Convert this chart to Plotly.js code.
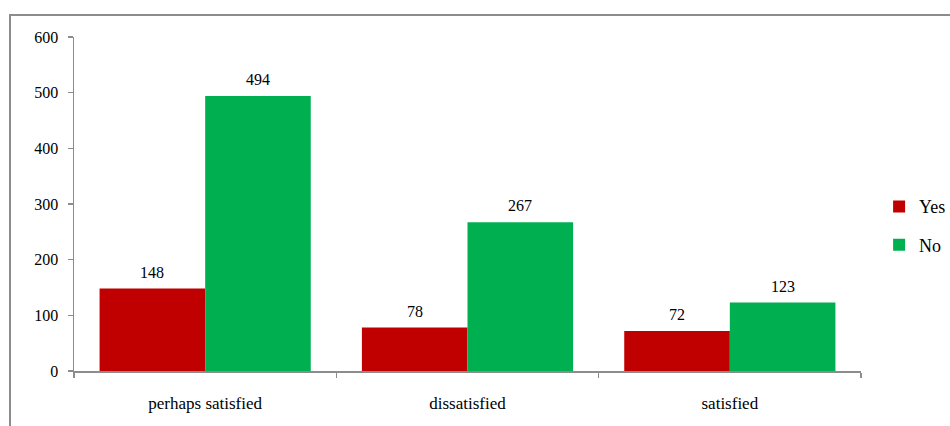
<!DOCTYPE html>
<html>
<head>
<meta charset="utf-8">
<script src="https://cdn.plot.ly/plotly-3.0.1.min.js"></script>
<style>
  html, body { margin: 0; padding: 0; background: #fff; font-family: "Liberation Serif", serif; }
  #wrap { position: relative; width: 950px; height: 426px; overflow: hidden; }
  #frame { position: absolute; left: 9px; top: 14px; width: 960px; height: 440px;
           border: 2px solid #8c8c8c; box-sizing: border-box; pointer-events: none; }
  #chart { position: absolute; left: 0; top: 0; width: 950px; height: 426px; }
  #chart svg text { font-family: "Liberation Serif", serif !important; }
</style>
</head>
<body>
<div id="wrap">
  <div id="frame"></div>
  <div id="chart"></div>
</div>
<script>
// Satisfaction responses, split by answer
const categories = ["perhaps satisfied", "dissatisfied", "satisfied"];
const yesValues = [148, 78, 72];
const noValues = [494, 267, 123];
const yTicks = [0, 100, 200, 300, 400, 500, 600];

const serif = "Liberation Serif";

const W = 950, H = 426;
const margin = { l: 74, r: 89, t: 37, b: 55, autoexpand: false };
const bargap = 0.195;

function barTrace(name, values, color, group) {
  return {
    type: "bar",
    name: name,
    x: categories,
    y: values,
    marker: { color: color, line: { width: 0 } },
    cliponaxis: false,
    legendgroup: group,
    hoverinfo: "x+y+name"
  };
}

const data = [
  barTrace("Yes", yesValues, "#C00000", "g1"),
  barTrace("No", noValues, "#00B050", "g2")
];

// Value labels sit above each bar; horizontal offset follows the grouped bar layout
const plotWidth = W - margin.l - margin.r;
const catWidth = plotWidth / categories.length;
const barWidth = catWidth * (1 - bargap) / 2;
const labelFont = { family: serif, size: 16, color: "#000" };
const annotations = [];
[[yesValues, -barWidth / 2], [noValues, barWidth / 2]].forEach(([vals, shift]) => {
  vals.forEach((v, i) => {
    annotations.push({
      x: categories[i], y: v, xref: "x", yref: "y",
      text: String(v), showarrow: false,
      xanchor: "center", yanchor: "bottom",
      xshift: shift, yshift: 6,
      font: labelFont
    });
  });
});

const layout = {
  width: W,
  height: H,
  margin: margin,
  paper_bgcolor: "rgba(0,0,0,0)",
  plot_bgcolor: "rgba(0,0,0,0)",
  barmode: "group",
  bargap: bargap,
  bargroupgap: 0,
  showlegend: true,
  font: { family: serif, size: 16, color: "#000" },
  annotations: annotations,
  xaxis: {
    type: "category",
    showline: true,
    linecolor: "#8c8c8c",
    linewidth: 1.5,
    ticks: "outside",
    tickson: "boundaries",
    ticklen: 5,
    tickcolor: "#8c8c8c",
    tickwidth: 1.5,
    ticklabelstandoff: 16,
    showgrid: false,
    zeroline: false,
    tickfont: { family: serif, size: 17, color: "#000" }
  },
  yaxis: {
    range: [0, 600],
    tickvals: yTicks,
    ticktext: yTicks.map(String),
    showline: true,
    linecolor: "#8c8c8c",
    linewidth: 1.5,
    ticks: "outside",
    ticklen: 5,
    tickcolor: "#8c8c8c",
    tickwidth: 1.5,
    ticklabelstandoff: 6,
    showgrid: false,
    zeroline: false,
    tickfont: { family: serif, size: 16, color: "#000" }
  },
  legend: {
    x: 1.023,
    xanchor: "left",
    y: 0.435,
    yanchor: "middle",
    traceorder: "grouped",
    tracegroupgap: 12,
    font: { family: serif, size: 18, color: "#000" },
    itemwidth: 30,
    bgcolor: "rgba(0,0,0,0)"
  }
};

Plotly.newPlot("chart", data, layout, { displayModeBar: false, staticPlot: true });
</script>
</body>
</html>
